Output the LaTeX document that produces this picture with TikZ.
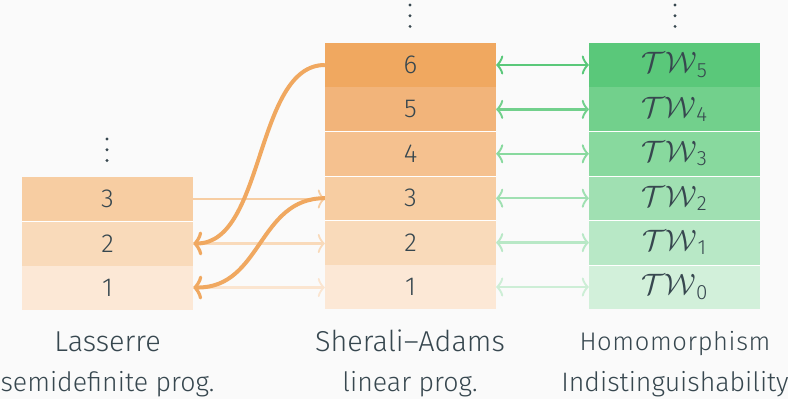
\RequirePackage{fix-cm}
\documentclass[tikz,border=0pt]{standalone}
\usepackage{amsmath}
\usepackage{fontspec}
\setmainfont{Fira Sans Light}
\newfontfamily\spacedB{Fira Sans Light}[LetterSpace=2.5]
\usetikzlibrary{arrows.meta}
\definecolor{bg}{HTML}{FAFAFA}
\definecolor{txt}{HTML}{37474F}
\definecolor{oA}{HTML}{FCE8D6}
\definecolor{oB}{HTML}{F9DABA}
\definecolor{oC}{HTML}{F7CDA2}
\definecolor{oD}{HTML}{F5C18F}
\definecolor{oE}{HTML}{F2B47A}
\definecolor{oF}{HTML}{F0A860}
\definecolor{gA}{HTML}{D2F0DA}
\definecolor{gB}{HTML}{B8E8C6}
\definecolor{gC}{HTML}{A0E0B2}
\definecolor{gD}{HTML}{88D99E}
\definecolor{gE}{HTML}{72D08C}
\definecolor{gF}{HTML}{5AC87A}
\tikzset{
  mytip/.tip={Classical TikZ Rightarrow[length=7pt,width=19pt]},
  bigtip/.tip={Classical TikZ Rightarrow[length=9pt,width=24pt]},
  cell/.style={minimum width=171pt, minimum height=44.4pt, inner sep=0pt, text=txt,
    font=\fontsize{26}{30}\selectfont},
  twcell/.style={cell, font=\fontsize{29.5}{32}\selectfont},
  labA/.style={text=txt, font=\fontsize{28.8}{32}\selectfont, inner sep=0pt, anchor=base},
  labB/.style={text=txt, font=\fontsize{26.7}{30}\selectfont, inner sep=0pt, anchor=base},
  labs/.style={text=txt, font=\spacedB\fontsize{25.5}{29}\selectfont, inner sep=0pt, anchor=base},
  dot/.style={fill=txt},
  thin arr/.style={line width=2.2pt, -{mytip}},
  dbl arr/.style={line width=2.4pt, {mytip}-{mytip}},
  big arr/.style={line width=4pt, color=oF, -{bigtip}},
}
\newcommand{\tw}[1]{$\mathcal{TW}_{\text{#1}}$}
\begin{document}
\begin{tikzpicture}[x=1pt,y=-1pt]
\fill[bg] (0,0) rectangle (788,399);
\useasboundingbox (0,0) rectangle (788,399);
% left column
\node[cell, fill=oA] (L1) at (107.5,287.5) {1};
\node[cell, fill=oB] (L2) at (107.5,243.5) {2};
\node[cell, fill=oC] (L3) at (107.5,199) {3};
% middle column
\node[cell, fill=oA] (M1) at (410.5,287) {1};
\node[cell, fill=oB] (M2) at (410.5,242.6) {2};
\node[cell, fill=oC] (M3) at (410.5,198.2) {3};
\node[cell, fill=oD] (M4) at (410.5,153.8) {4};
\node[cell, fill=oE] (M5) at (410.5,109.4) {5};
\node[cell, fill=oF] (M6) at (410.5,65) {6};
% right column
\node[twcell, fill=gA] (T0) at (674.5,287) {\tw{0}};
\node[twcell, fill=gB] (T1) at (674.5,242.6) {\tw{1}};
\node[twcell, fill=gC] (T2) at (674.5,198.2) {\tw{2}};
\node[twcell, fill=gD] (T3) at (674.5,153.8) {\tw{3}};
\node[twcell, fill=gE] (T4) at (674.5,109.4) {\tw{4}};
\node[twcell, fill=gF] (T5) at (674.5,65) {\tw{5}};
% separators
\foreach \b in {L3, M3, M4, M5, T1, T2, T3, T4}
  \draw[white, line width=0.8pt] (\b.south west) -- (\b.south east);
% vertical dots
\foreach \x/\y in {107/139, 410/5, 675/5} {
  \fill[dot] (\x,\y) circle (1.6);
  \fill[dot] (\x,\y+10.7) circle (1.6);
  \fill[dot] (\x,\y+21.4) circle (1.6);
}
% labels
\node[labA] (la1) at (107.5,351) {Lasserre};
\node[labB] (la2) at (107.5,391.5) {semidefinite prog.};
\node[labA] (lb1) at (410,351) {Sherali–Adams};
\node[labB] (lb2) at (410,391.5) {linear prog.};
\node[labs] (lc1) at (675,350) {Homomorphism};
\node[labB] (lc2) at (675,391.5) {Indistinguishability};
% thin arrows left -> middle
\draw[thin arr, oC] (L3.east) -- (M3.west |- L3.east);
\draw[thin arr, oB] (L2.east) -- (M2.west |- L2.east);
\draw[thin arr, oA!80!oB] (L1.east) -- (M1.west |- L1.east);
% green double arrows
\draw[dbl arr, gF] (M6.east) -- (T5.west);
\draw[dbl arr, gE] (M5.east) -- (T4.west);
\draw[dbl arr, gD] (M4.east) -- (T3.west);
\draw[dbl arr, gC] (M3.east) -- (T2.west);
\draw[dbl arr, gB] (M2.east) -- (T1.west);
\draw[dbl arr, gA!80!gB] (M1.east) -- (T0.west);
% big curves
\draw[big arr] (M6.west) .. controls (255,65) and (265,243) .. (L2.east);
\draw[big arr] (M3.west) .. controls (258,198) and (262,288) .. (L1.east);
\end{tikzpicture}
\end{document}
